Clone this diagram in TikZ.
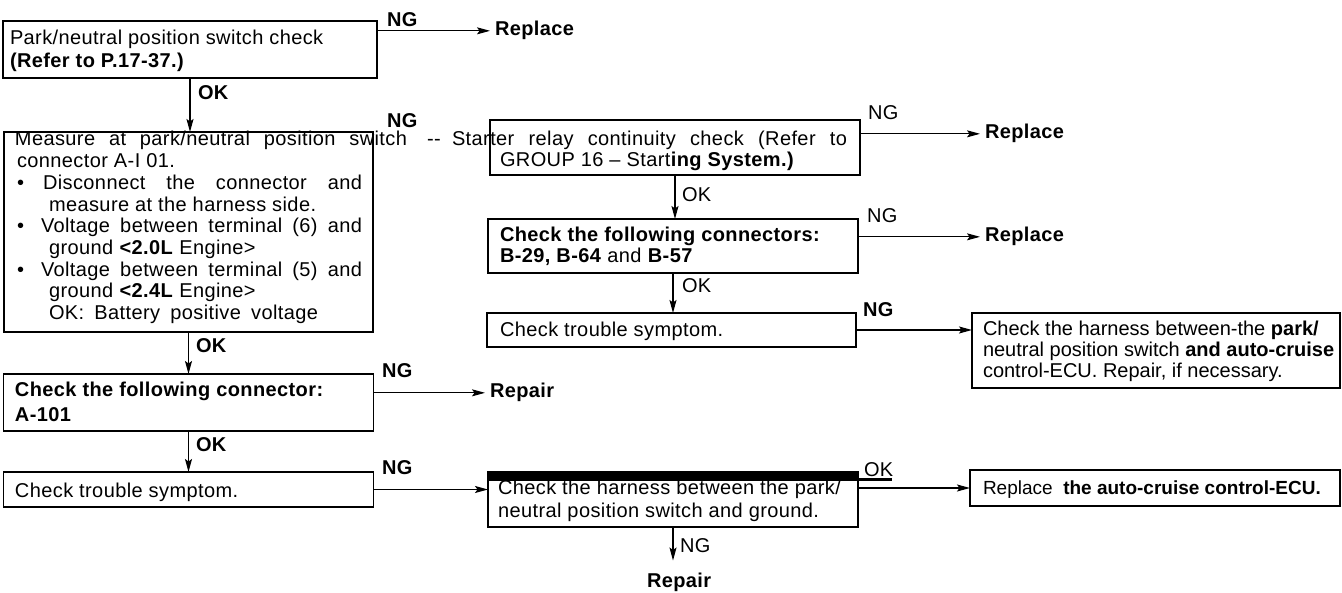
\documentclass[tikz,border=0pt]{standalone}
\usepackage{fontspec}
\setmainfont[LetterSpace=2]{Liberation Sans}
\newfontfamily\condf{Liberation Sans}
\usetikzlibrary{arrows.meta}
\begin{document}
\begin{tikzpicture}[x=1pt,y=-1pt,
  font=\fontsize{20pt}{22pt}\selectfont,
  box/.style={draw, line width=1.7pt, inner sep=0pt, outer sep=0pt},
  txt/.style={anchor=base west, inner sep=0pt, outer sep=0pt},
  bl/.style={txt, font=\fontsize{20pt}{22pt}\selectfont\bfseries},
  ctxt/.style={txt, font=\fontsize{20pt}{22pt}\selectfont\condf},
  arr/.style={line width=1.1pt, -{Stealth[length=13pt,width=7pt,inset=2.5pt]}},
]
\useasboundingbox (0,0) rectangle (1342,593);

% ---------- left column ----------
\node[box, minimum width=374pt, minimum height=57pt] (b1) at (190,49.5) {};
\node[txt] (t1a) at (10,45) {Park/neutral position switch check};
\node[bl] (t1b) at (10,68) {(Refer to P.17-37.)};
\node[bl] (ng1) at (387,27) {NG};
\node[bl] (rep1) at (495,36) {Replace};
\draw[arr] (b1.east |- rep1.west) -- ([xshift=-5pt]rep1.west);
\node[bl] (ok1) at (198,100) {OK};

\node[box, minimum width=369pt, minimum height=200pt] (b2) at (188.5,232) {};
\draw[arr] (b1.south) -- (b1.south |- b2.north);
\node[txt] (l1) at (15,146) {\makebox[392pt][s]{Measure at park/neutral position switch}};
\node[txt] (l2) at (17,168) {connector A-I 01.};
\node[txt] (u1) at (17,190) {•};
\node[txt] (l3) at (43,190) {\makebox[319pt][s]{Disconnect the connector and}};
\node[txt] (l4) at (49,212) {measure at the harness side.};
\node[txt] (u2) at (17,233) {•};
\node[txt] (l5) at (41,233) {\makebox[321pt][s]{Voltage between terminal (6) and}};
\node[txt] (l6) at (49,255) {ground \textbf{<2.0L} Engine>};
\node[txt] (u3) at (17,277) {•};
\node[txt] (l7) at (41,277) {\makebox[321pt][s]{Voltage between terminal (5) and}};
\node[txt] (l8) at (49,298) {ground \textbf{<2.4L} Engine>};
\node[txt] (l9) at (49,320) {\makebox[269pt][s]{OK: Battery positive voltage}};
\node[bl] (ng2) at (387,128) {NG};
\node[bl] (ok2) at (196,353) {OK};

\node[box, minimum width=370pt, minimum height=57pt] (b3) at (188.5,402.5) {};
\draw[arr] (b2.south) -- (b2.south |- b3.north);
\node[bl] (t3a) at (15,397) {Check the following connector:};
\node[bl] (t3b) at (15,422) {A-101};
\node[bl] (ng3) at (382,378) {NG};
\node[bl] (rp1) at (490,398) {Repair};
\draw[arr] (b3.east |- rp1.west) -- ([xshift=-5pt]rp1.west);
\node[bl] (ok3) at (196,452) {OK};

\node[box, minimum width=370pt, minimum height=35pt] (b4) at (188.5,489.5) {};
\draw[arr] (b3.south) -- (b3.south |- b4.north);
\node[txt] (t4) at (15,497) {Check trouble symptom.};
\node[bl] (ng4) at (382,475) {NG};

% ---------- bottom middle ----------
\node[box, minimum width=370pt, minimum height=55pt] (b5) at (673,499.5) {};
\draw[arr] (b4.east) -- (b4.east -| b5.west);
\node[txt] (t5a) at (498,494) {Check the harness between the park/};
\node[txt] (t5b) at (498,518) {neutral position switch and ground.};
\fill (488,471) rectangle (858,481);
\fill (858,478) rectangle (892,481);
\node[txt] (ok5) at (864,476) {OK};
\node[txt] (ng5) at (680,552) {NG};
\node[bl] (rp2) at (647,587) {Repair};
\draw[arr, shorten >=12pt] (b5.south) -- (b5.south |- rp2.north);

\node[box, minimum width=370pt, minimum height=36pt] (b6) at (1155,488) {};
\draw[arr] (b5.east |- b6.west) -- (b6.west);
\node[ctxt, font=\fontsize{19pt}{22pt}\selectfont\condf] (t6) at (983,494) {Replace\ \ \textbf{the auto-cruise control-ECU.}};

% ---------- upper middle / right ----------
\node[box, minimum width=370pt, minimum height=55pt] (bS) at (675,147.5) {};
\node[txt] (d1) at (427,146) {-{}-};
\node[txt] (s1) at (452,146) {\makebox[395pt][s]{Starter relay continuity check (Refer to}};
\node[txt] (s2) at (500,167) {GROUP 16 – Start\textbf{ing System.)}};
\node[txt] (ng6) at (868,120) {NG};
\node[bl] (rep2) at (985,139) {Replace};
\draw[arr] (bS.east |- rep2.west) -- ([xshift=-5pt]rep2.west);
\node[txt] (ok6) at (682,202) {OK};

\node[box, minimum width=370pt, minimum height=54pt] (bC) at (673,246) {};
\draw[arr] (bS.south) -- (bS.south |- bC.north);
\node[bl] (tCa) at (500,242) {Check the following connectors:};
\node[txt] (tCb) at (500,263) {\textbf{B-29, B-64} and \textbf{B-57}};
\node[txt] (ng7) at (867,223) {NG};
\node[bl] (rep3) at (985,242) {Replace};
\draw[arr] (bC.east |- rep3.west) -- ([xshift=-5pt]rep3.west);
\node[txt] (ok7) at (682,293) {OK};

\node[box, minimum width=369pt, minimum height=34pt] (bT) at (671.5,330) {};
\draw[arr] (bC.south) -- (bC.south |- bT.north);
\node[txt] (tT) at (500,337) {Check trouble symptom.};
\node[bl] (ng8) at (863,317) {NG};

\node[box, minimum width=368pt, minimum height=75pt] (bH) at (1156,350.5) {};
\draw[arr] (bT.east) -- (bT.east -| bH.west);
\node[ctxt] (tHa) at (983,336) {Check the harness between-the \textbf{park/}};
\node[ctxt] (tHb) at (983,357) {neutral position switch \textbf{and auto-cruise}};
\node[ctxt] (tHc) at (983,378) {control-ECU. Repair, if necessary.};
\end{tikzpicture}
\end{document}
